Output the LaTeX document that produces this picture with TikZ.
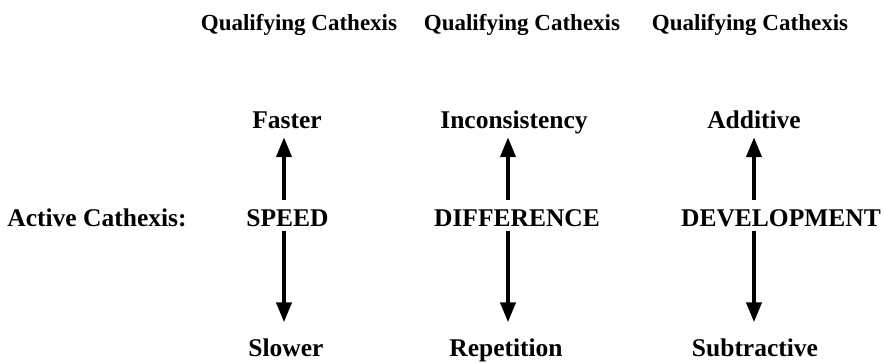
\documentclass[tikz,border=0pt]{standalone}
\usepackage{fontspec}
\setmainfont{Liberation Serif}
\usetikzlibrary{arrows.meta}
\begin{document}
\begin{tikzpicture}[x=1pt,y=-1pt,
  lbl/.style={inner sep=0pt,font=\fontsize{25.5}{28}\selectfont\bfseries,text height=17pt,text depth=0pt},
  toplbl/.style={inner sep=0pt,font=\fontsize{23}{26}\selectfont\bfseries,text height=15.5pt,text depth=0pt},
  arr/.style={line width=4pt,-{Triangle[length=20pt,width=15pt]}}]
\useasboundingbox (0,0) rectangle (884,363);
% top labels
\node[toplbl] (q1) at (299,23) {Qualifying Cathexis};
\node[toplbl] (q2) at (522,23) {Qualifying Cathexis};
\node[toplbl] (q3) at (750,23) {Qualifying Cathexis};
% row label
\node[lbl] (active) at (97,218.5) {Active Cathexis:};
% column 1
\node[lbl] (speed) at (287.5,218.5) {SPEED};
\node[lbl] (faster) at (287,120) {Faster};
\node[lbl] (slower) at (286,348.5) {Slower};
% column 2
\node[lbl] (difference) at (517,218.5) {DIFFERENCE};
\node[lbl] (inconsistency) at (514,120) {Inconsistency};
\node[lbl] (repetition) at (506,348.5) {Repetition};
% column 3
\node[lbl] (development) at (781,218.5) {DEVELOPMENT};
\node[lbl] (additive) at (754,120) {Additive};
\node[lbl] (subtractive) at (755,348.5) {Subtractive};
% arrow axes
\coordinate (ax1) at (284,0);
\coordinate (ax2) at (508,0);
\coordinate (ax3) at (754,0);
% arrows
\draw[arr,shorten <=9.5pt,shorten >=8.5pt] (speed.north -| ax1) -- (faster.south -| ax1);
\draw[arr,shorten <=3.5pt,shorten >=17.5pt] (speed.south -| ax1) -- (slower.north -| ax1);
\draw[arr,shorten <=9.5pt,shorten >=8.5pt] (difference.north -| ax2) -- (inconsistency.south -| ax2);
\draw[arr,shorten <=3.5pt,shorten >=17.5pt] (difference.south -| ax2) -- (repetition.north -| ax2);
\draw[arr,shorten <=9.5pt,shorten >=8.5pt] (development.north -| ax3) -- (additive.south -| ax3);
\draw[arr,shorten <=3.5pt,shorten >=17.5pt] (development.south -| ax3) -- (subtractive.north -| ax3);
\end{tikzpicture}
\end{document}
